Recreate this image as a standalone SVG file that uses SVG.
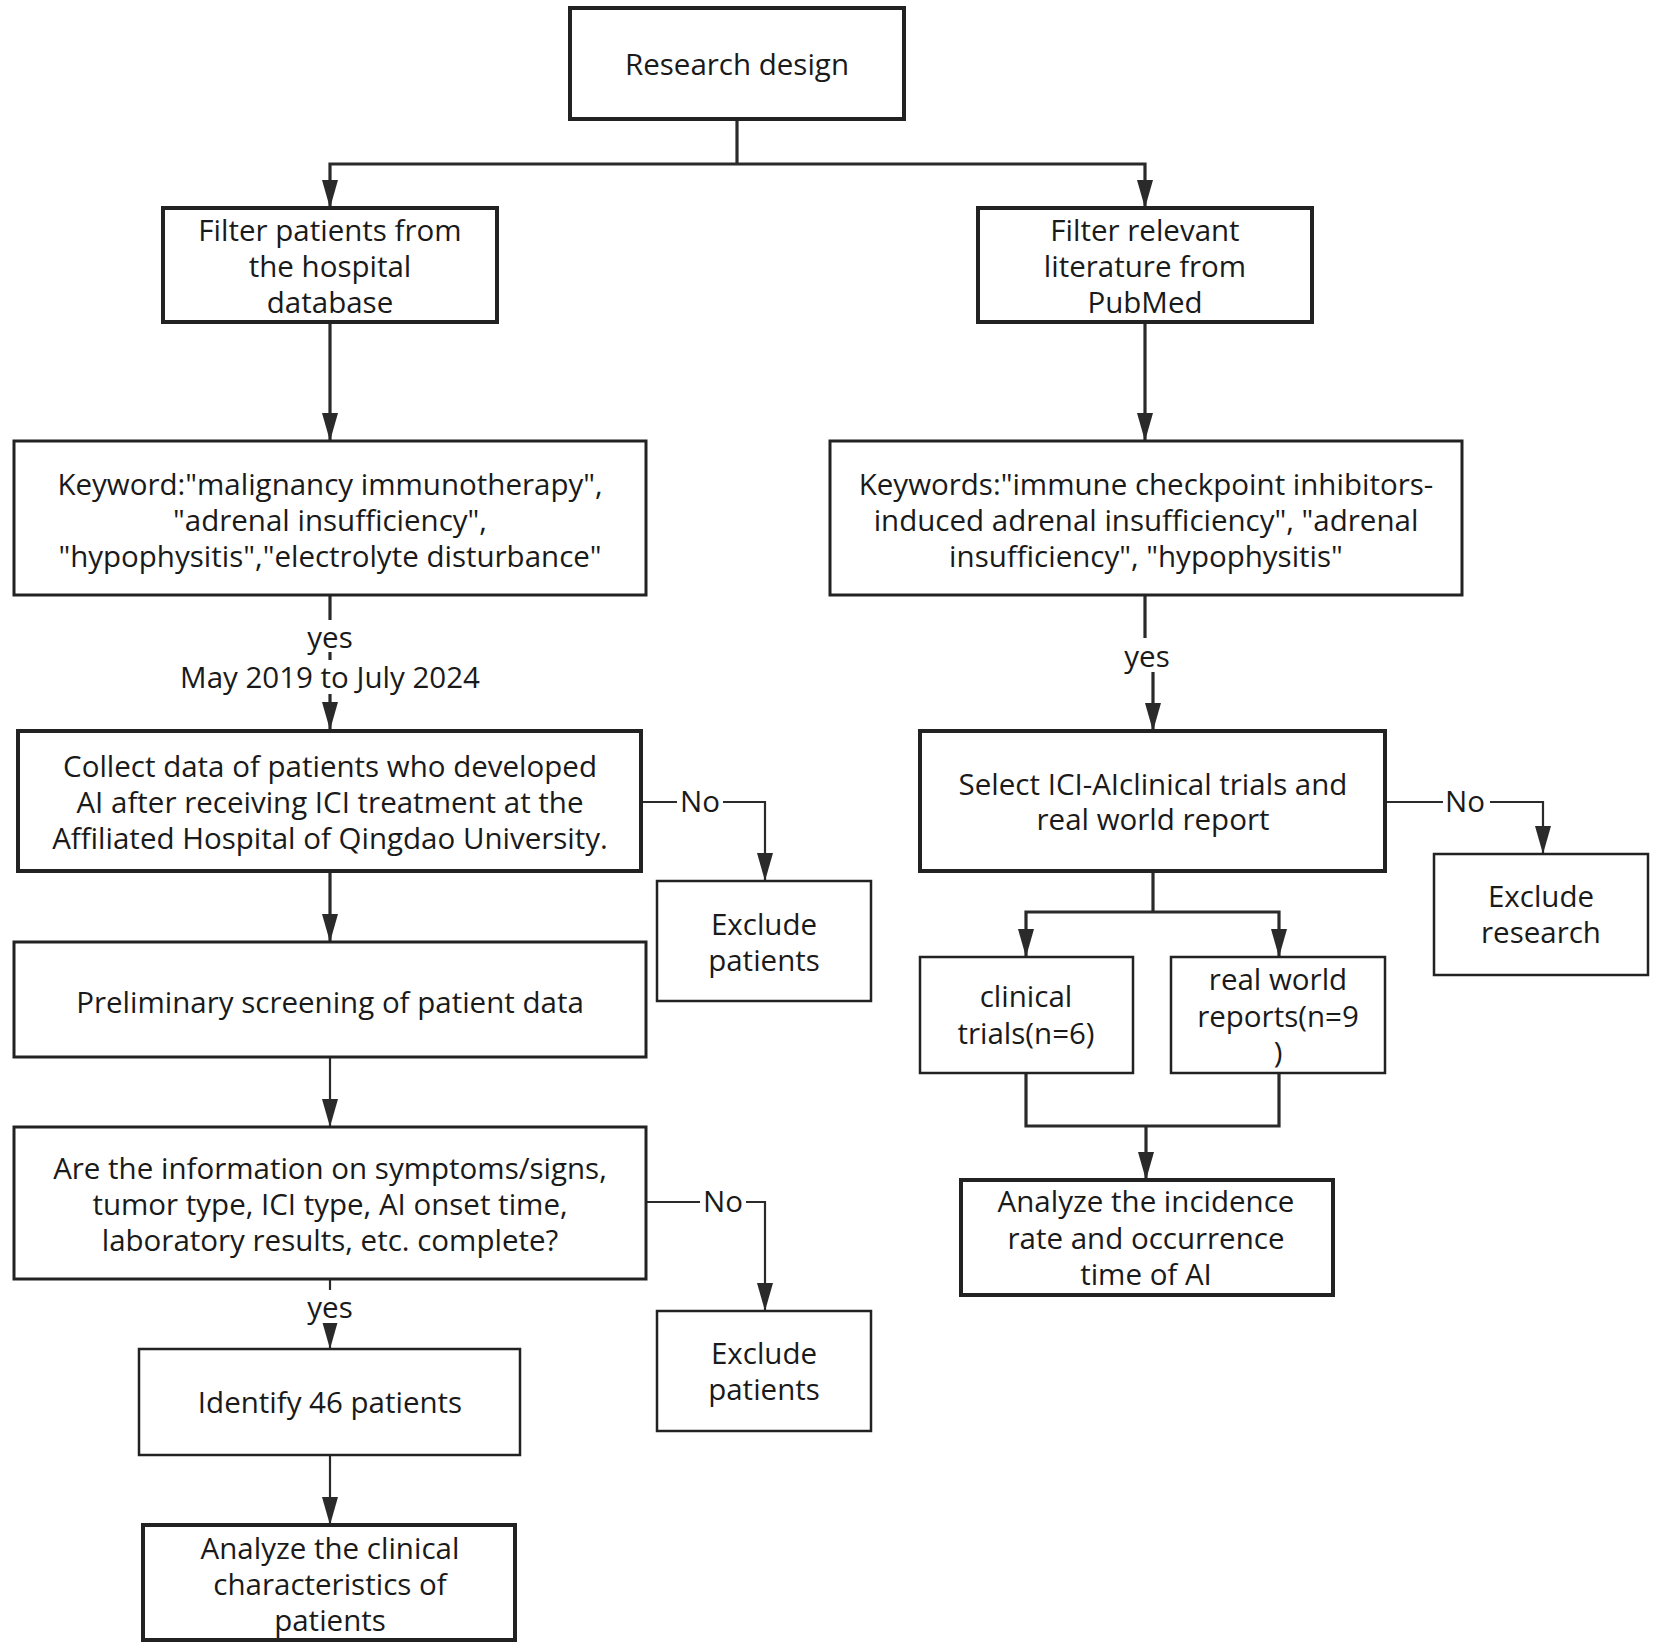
<svg xmlns="http://www.w3.org/2000/svg" width="1654" height="1647" viewBox="0 0 1654 1647">
<style>
.box{fill:#fff;stroke:#222}
.thick{stroke-width:4}
.mid{stroke-width:3}
.thin{stroke-width:2.5}
.t{font-family:"Open Sans","Noto Sans","DejaVu Sans",sans-serif;font-size:29.5px;fill:#1a1a1a;text-anchor:middle;dominant-baseline:central}
.c{fill:none;stroke:#2a2a2a}
.c3{stroke-width:3.2}
.c2{stroke-width:2.2}
.lbl{fill:#fff;stroke:none}
</style>
<defs>
<marker id="ah" viewBox="0 0 28 16" refX="28" refY="8" markerWidth="28" markerHeight="16" markerUnits="userSpaceOnUse" orient="auto">
<path d="M0,0 L28,8 L0,16 z" fill="#2a2a2a"/>
</marker>
</defs>
<rect x="0" y="0" width="1654" height="1647" fill="#fff"/>

<g id="connectors">
<path class="c c3" d="M737,119 V164"/>
<path class="c c3" d="M737,164 H330 V208" marker-end="url(#ah)"/>
<path class="c c3" d="M737,164 H1145 V208" marker-end="url(#ah)"/>
<path class="c c3" d="M330,322 V441" marker-end="url(#ah)"/>
<path class="c c3" d="M1145,322 V441" marker-end="url(#ah)"/>
<path class="c c3" d="M330,595 V730" marker-end="url(#ah)"/>
<path class="c c3" d="M1145,595 V658 H1153 V731" marker-end="url(#ah)"/>
<path class="c c2" d="M641,802 H765 V881" marker-end="url(#ah)"/>
<path class="c c2" d="M1385,802 H1543 V854" marker-end="url(#ah)"/>
<path class="c c3" d="M330,871 V942" marker-end="url(#ah)"/>
<path class="c c2" d="M330,1057 V1127" marker-end="url(#ah)"/>
<path class="c c2" d="M646,1202 H765 V1311" marker-end="url(#ah)"/>
<path class="c c2" d="M330,1279 V1349" marker-end="url(#ah)"/>
<path class="c c2" d="M330,1455 V1525" marker-end="url(#ah)"/>
<path class="c c3" d="M1153,871 V912"/>
<path class="c c3" d="M1153,912 H1026 V957" marker-end="url(#ah)"/>
<path class="c c3" d="M1153,912 H1279 V957" marker-end="url(#ah)"/>
<path class="c c3" d="M1026,1073 V1126 H1279 V1073"/>
<path class="c c3" d="M1146,1126 V1180" marker-end="url(#ah)"/>
<rect class="lbl" x="298" y="620" width="64" height="32"/>
<text class="t" x="330" y="636">yes</text>
<rect class="lbl" x="160" y="660" width="340" height="34"/>
<text class="t" x="330" y="676">May 2019 to July 2024</text>
<rect class="lbl" x="1113" y="638" width="68" height="34"/>
<text class="t" x="1147" y="655">yes</text>
<rect class="lbl" x="298" y="1290" width="64" height="33"/>
<text class="t" x="330" y="1306">yes</text>
<rect class="lbl" x="677" y="786" width="46" height="32"/>
<text class="t" x="700" y="800">No</text>
<rect class="lbl" x="700" y="1186" width="46" height="32"/>
<text class="t" x="723" y="1200">No</text>
<rect class="lbl" x="1443" y="786" width="47" height="32"/>
<text class="t" x="1465" y="800">No</text>
</g>

<g id="n-research-design">
<rect class="box thick" x="570" y="8" width="334" height="111"/>
<text class="t" x="737" y="63">Research design</text>
</g>
<g id="n-filter-patients">
<rect class="box thick" x="163" y="208" width="334" height="114"/>
<text class="t" x="330" y="229">Filter patients from</text>
<text class="t" x="330" y="265">the hospital</text>
<text class="t" x="330" y="301">database</text>
</g>
<g id="n-filter-literature">
<rect class="box thick" x="978" y="208" width="334" height="114"/>
<text class="t" x="1145" y="229">Filter relevant</text>
<text class="t" x="1145" y="265">literature from</text>
<text class="t" x="1145" y="301">PubMed</text>
</g>
<g id="n-keyword-left">
<rect class="box mid" x="14" y="441" width="632" height="154"/>
<text class="t" x="330" y="483">Keyword:"malignancy immunotherapy",</text>
<text class="t" x="330" y="519">"adrenal insufficiency",</text>
<text class="t" x="330" y="555">"hypophysitis","electrolyte disturbance"</text>
</g>
<g id="n-keyword-right">
<rect class="box mid" x="830" y="441" width="632" height="154"/>
<text class="t" x="1146" y="483">Keywords:"immune checkpoint inhibitors-</text>
<text class="t" x="1146" y="519">induced adrenal insufficiency", "adrenal</text>
<text class="t" x="1146" y="555">insufficiency", "hypophysitis"</text>
</g>
<g id="n-collect">
<rect class="box thick" x="18" y="731" width="623" height="140"/>
<text class="t" x="330" y="765">Collect data of patients who developed</text>
<text class="t" x="330" y="801">AI after receiving ICI treatment at the</text>
<text class="t" x="330" y="837">Affiliated Hospital of Qingdao University.</text>
</g>
<g id="n-exclude-patients-1">
<rect class="box thin" x="657" y="881" width="214" height="120"/>
<text class="t" x="764" y="923">Exclude</text>
<text class="t" x="764" y="959">patients</text>
</g>
<g id="n-preliminary">
<rect class="box mid" x="14" y="942" width="632" height="115"/>
<text class="t" x="330" y="1001">Preliminary screening of patient data</text>
</g>
<g id="n-complete">
<rect class="box mid" x="14" y="1127" width="632" height="152"/>
<text class="t" x="330" y="1167">Are the information on symptoms/signs,</text>
<text class="t" x="330" y="1203">tumor type, ICI type, AI onset time,</text>
<text class="t" x="330" y="1239">laboratory results, etc. complete?</text>
</g>
<g id="n-exclude-patients-2">
<rect class="box thin" x="657" y="1311" width="214" height="120"/>
<text class="t" x="764" y="1352">Exclude</text>
<text class="t" x="764" y="1388">patients</text>
</g>
<g id="n-identify">
<rect class="box thin" x="139" y="1349" width="381" height="106"/>
<text class="t" x="330" y="1401">Identify 46 patients</text>
</g>
<g id="n-analyze-clinical">
<rect class="box thick" x="143" y="1525" width="372" height="115"/>
<text class="t" x="330" y="1547">Analyze the clinical</text>
<text class="t" x="330" y="1583">characteristics of</text>
<text class="t" x="330" y="1619">patients</text>
</g>
<g id="n-select">
<rect class="box thick" x="920" y="731" width="465" height="140"/>
<text class="t" x="1153" y="783">Select ICI-AIclinical trials and</text>
<text class="t" x="1153" y="818">real world report</text>
</g>
<g id="n-exclude-research">
<rect class="box thin" x="1434" y="854" width="214" height="121"/>
<text class="t" x="1541" y="895">Exclude</text>
<text class="t" x="1541" y="931">research</text>
</g>
<g id="n-clinical-trials">
<rect class="box thin" x="920" y="957" width="213" height="116"/>
<text class="t" x="1026" y="995">clinical</text>
<text class="t" x="1026" y="1032">trials(n=6)</text>
</g>
<g id="n-real-world">
<rect class="box thin" x="1171" y="957" width="214" height="116"/>
<text class="t" x="1278" y="978">real world</text>
<text class="t" x="1278" y="1015">reports(n=9</text>
<text class="t" x="1278" y="1051">)</text>
</g>
<g id="n-analyze-incidence">
<rect class="box thick" x="961" y="1180" width="372" height="115"/>
<text class="t" x="1146" y="1200">Analyze the incidence</text>
<text class="t" x="1146" y="1237">rate and occurrence</text>
<text class="t" x="1146" y="1273">time of AI</text>
</g>
</svg>
